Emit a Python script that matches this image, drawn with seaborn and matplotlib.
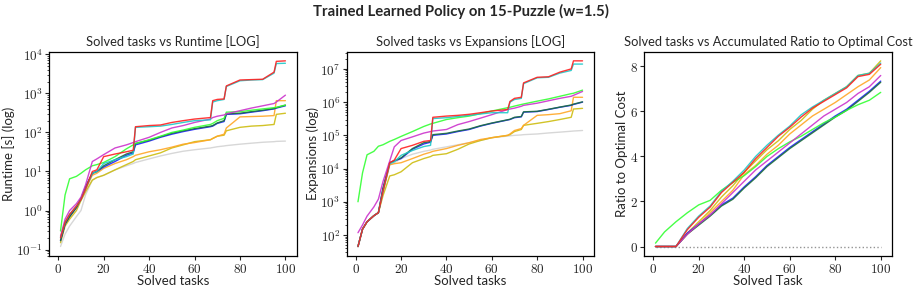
import numpy as np
import pandas as pd
import seaborn as sns
import matplotlib
matplotlib.use('Agg')
import matplotlib.pyplot as plt
from matplotlib.ticker import FuncFormatter, LogLocator, NullFormatter

TASKS = [1, 3, 5, 8, 10, 12, 15, 17, 20, 25, 30, 33, 34, 40, 45, 50, 55, 60,
         67, 68, 70, 73, 74, 80, 85, 90, 95, 96, 100]

# accumulated runtime [s]
rt_red = [0.2, 0.5, 0.8, 1.3, 1.9, 3.5, 10, 11, 24, 28, 32, 35, 140, 150, 155, 180, 200, 220,
          240, 650, 700, 720, 1550, 2200, 2250, 2300, 3500, 6600, 6800]
rt_cyan = [0.2, 0.5, 0.8, 1.3, 1.9, 3.5, 9, 10, 16, 20, 24, 28, 135, 140, 145, 160, 180, 200,
           210, 600, 650, 700, 1500, 2100, 2200, 2250, 3300, 5800, 5900]
rt_magenta = [0.22, 0.6, 1.0, 1.5, 2.2, 4.5, 18, 21, 27, 40, 48, 55, 58, 75, 100, 130, 150, 180,
              220, 240, 260, 280, 300, 360, 420, 480, 550, 600, 900]
rt_lime = [0.3, 2.5, 6.5, 7.5, 9, 11, 14, 15, 17, 24, 38, 48, 52, 65, 80, 100, 115, 135,
           160, 170, 200, 230, 330, 340, 370, 400, 430, 440, 500]
rt_blue = [0.17, 0.45, 0.7, 1.2, 2, 4, 9, 10, 13, 18, 26, 30, 48, 60, 75, 90, 105, 120,
           140, 145, 170, 190, 290, 300, 330, 360, 400, 420, 480]
rt_dkgreen = [0.17, 0.45, 0.7, 1.2, 2, 4, 9, 10, 14, 20, 28, 32, 52, 63, 78, 95, 110, 125,
              145, 150, 175, 200, 300, 310, 340, 370, 410, 430, 500]
rt_orange = [0.18, 0.45, 0.7, 1.2, 2, 3.5, 8, 9, 12, 16, 20, 24, 26, 32, 36, 42, 50, 55,
             65, 70, 80, 90, 130, 250, 255, 260, 270, 650, 650]
rt_yellow = [0.15, 0.4, 0.6, 1.0, 1.8, 3, 6, 7, 8, 11, 15, 18, 20, 25, 30, 40, 48, 58,
             65, 70, 80, 85, 110, 135, 145, 150, 160, 290, 310]
rt_gray = [0.12, 0.25, 0.4, 0.7, 1.0, 2.5, 6, 7, 8, 11, 14, 16, 17, 21, 25, 29, 33, 36,
           40, 41, 43, 45, 46, 50, 53, 56, 58, 59, 60]

# accumulated expansions
ex_red = [45, 150, 250, 380, 470, 2000, 15000, 18000, 40000, 50000, 66000, 70000, 350000, 380000,
          400000, 430000, 480000, 540000, 600000, 1.05e6, 1.3e6, 1.4e6, 3.8e6, 5.6e6, 5.8e6,
          8e6, 1e7, 1.75e7, 1.75e7]
ex_cyan = [45, 150, 250, 380, 470, 2000, 14000, 16000, 25000, 35000, 46000, 50000, 320000, 340000,
           370000, 400000, 440000, 480000, 480000, 1e6, 1.2e6, 1.3e6, 3.6e6, 5.4e6, 5.6e6,
           7.5e6, 9e6, 1.4e7, 1.4e7]
ex_magenta = [117, 200, 370, 700, 1200, 4000, 17000, 45000, 70000, 90000, 117000, 130000, 135000,
              150000, 210000, 260000, 330000, 420000, 600000, 620000, 660000, 750000, 800000,
              930000, 1.1e6, 1.3e6, 1.5e6, 1.6e6, 2.1e6]
ex_lime = [1000, 7400, 26000, 33000, 47000, 52000, 66000, 75000, 93000, 130000, 185000, 220000,
           230000, 300000, 340000, 380000, 450000, 540000, 680000, 700000, 760000, 850000, 880000,
           1.07e6, 1.25e6, 1.5e6, 1.8e6, 1.85e6, 2.3e6]
ex_blue = [45, 150, 250, 380, 470, 2500, 15000, 17000, 20000, 38000, 55000, 62000, 100000, 110000,
           130000, 150000, 190000, 230000, 290000, 300000, 340000, 360000, 500000, 520000,
           600000, 700000, 800000, 850000, 1e6]
ex_dkgreen = [45, 150, 250, 380, 470, 2500, 15000, 17000, 21000, 40000, 60000, 65000, 105000,
              115000, 135000, 155000, 195000, 235000, 295000, 305000, 350000, 370000, 510000,
              530000, 610000, 710000, 820000, 870000, 1.02e6]
ex_orange = [45, 150, 250, 380, 470, 2000, 13000, 14000, 15000, 20000, 27000, 31000, 33000, 40000,
             50000, 60000, 75000, 85000, 100000, 110000, 140000, 160000, 200000, 400000, 420000,
             450000, 550000, 1.4e6, 1.4e6]
ex_yellow = [45, 150, 250, 380, 470, 1500, 6000, 6500, 8000, 15000, 20000, 23000, 25000, 28000,
             38000, 55000, 70000, 85000, 100000, 105000, 130000, 150000, 200000, 230000, 260000,
             300000, 350000, 620000, 650000]
ex_gray = [45, 150, 250, 380, 470, 2000, 13000, 15000, 20000, 27000, 33000, 36000, 38000, 45000,
           52000, 60000, 70000, 85000, 95000, 97000, 100000, 103000, 105000, 110000, 118000,
           125000, 133000, 135000, 140000]

# accumulated ratio to optimal cost
RATIO_TASKS = [1, 5, 10, 15, 20, 25, 30, 35, 40, 45, 50, 55, 60, 65, 70, 75, 80, 85, 90, 95, 100]
rc_red = [0, 0, 0, 0.75, 1.3, 1.75, 2.4, 2.85, 3.3, 3.9, 4.4, 4.9, 5.3, 5.75, 6.15, 6.45, 6.75,
          7.05, 7.55, 7.65, 8.1]
rc_cyan = [0, 0, 0, 0.8, 1.35, 1.8, 2.45, 2.9, 3.4, 4.0, 4.5, 4.95, 5.35, 5.85, 6.2, 6.5, 6.8,
           7.1, 7.6, 7.7, 8.15]
rc_magenta = [0, 0, 0, 0.55, 1.0, 1.4, 1.9, 2.4, 2.9, 3.4, 3.8, 4.2, 4.6, 5.0, 5.4, 5.8, 6.1,
              6.4, 6.8, 7.1, 7.6]
rc_lime = [0.15, 0.65, 1.1, 1.5, 1.85, 2.05, 2.5, 2.85, 3.15, 3.55, 4.0, 4.35, 4.65, 4.9, 5.2,
           5.5, 5.75, 6.05, 6.3, 6.5, 6.85]
rc_blue = [0, 0, 0, 0.6, 1.0, 1.4, 1.85, 2.15, 2.65, 3.1, 3.6, 4.0, 4.4, 4.75, 5.1, 5.45, 5.8,
           6.1, 6.5, 6.9, 7.35]
rc_dkgreen = [0, 0, 0, 0.55, 0.95, 1.35, 1.8, 2.1, 2.6, 3.05, 3.55, 3.95, 4.35, 4.7, 5.05, 5.4,
              5.75, 6.05, 6.45, 6.85, 7.3]
rc_orange = [0, 0, 0, 0.55, 1.0, 1.5, 2.0, 2.5, 3.2, 3.6, 4.1, 4.5, 5.0, 5.4, 5.8, 6.1, 6.4,
             6.75, 7.1, 7.4, 7.95]
rc_yellow = [0, 0, 0, 0.6, 1.1, 1.6, 2.2, 2.7, 3.3, 3.8, 4.3, 4.7, 5.2, 5.6, 6.1, 6.5, 6.8,
             7.1, 7.6, 7.7, 8.25]
rc_gray = [0] * len(RATIO_TASKS)

names = ['gray', 'yellow', 'orange', 'blue', 'dkgreen', 'lime', 'magenta', 'cyan', 'red']
palette = {'gray': '#d3d3d3', 'yellow': '#cdbd10', 'orange': '#ffa726', 'blue': '#1f1fff',
           'dkgreen': '#1a6e3c', 'lime': '#33ff33', 'magenta': '#cc33cc', 'cyan': '#1fc8c8',
           'red': '#ff2020'}

runtime = dict(zip(names, [rt_gray, rt_yellow, rt_orange, rt_blue, rt_dkgreen, rt_lime,
                           rt_magenta, rt_cyan, rt_red]))
expansions = dict(zip(names, [ex_gray, ex_yellow, ex_orange, ex_blue, ex_dkgreen, ex_lime,
                              ex_magenta, ex_cyan, ex_red]))
ratio = dict(zip(names, [rc_gray, rc_yellow, rc_orange, rc_blue, rc_dkgreen, rc_lime,
                         rc_magenta, rc_cyan, rc_red]))


def to_long(x, series):
    frames = [pd.DataFrame({'task': x, 'value': v, 'run': k}) for k, v in series.items()]
    return pd.concat(frames, ignore_index=True)


sns.set_theme(style='ticks')
plt.rcParams['font.family'] = ['Lato', 'DejaVu Sans']
plt.rcParams['mathtext.fontset'] = 'cm'

fig = plt.figure(figsize=(9.21, 2.93), dpi=100)
axes = [fig.add_axes([0.0535, 0.127, 0.2686, 0.697]),
        fig.add_axes([0.3765, 0.127, 0.2682, 0.697]),
        fig.add_axes([0.6995, 0.127, 0.269, 0.697])]

panels = [
    (TASKS, runtime, 'Solved tasks vs Runtime [LOG]', 'Solved tasks', 'Runtime [s] (log)', True),
    (TASKS, expansions, 'Solved tasks vs Expansions [LOG]', 'Solved tasks', 'Expansions (log)', True),
    (RATIO_TASKS, ratio, 'Solved tasks vs Accumulated Ratio to Optimal Cost', 'Solved Task',
     'Ratio to Optimal Cost', False),
]

math_fmt = FuncFormatter(lambda v, p: f'${v:g}$')
pow_fmt = FuncFormatter(lambda v, p: f'$10^{{{int(round(np.log10(v)))}}}$')

for ax, (x, data, title, xlab, ylab, logy) in zip(axes, panels):
    df = to_long(x, data)
    sns.lineplot(data=df, x='task', y='value', hue='run', palette=palette, hue_order=names,
                 lw=1.0, alpha=0.9, legend=False, ax=ax)
    if not logy:
        # optimal baseline is drawn dotted
        ax.lines[0].set_linestyle(':')
        ax.lines[0].set_color('#888888')
    ax.set_title(title, fontsize=9.3, pad=4)
    ax.set_xlabel(xlab, fontsize=9.5, labelpad=0)
    ax.set_ylabel(ylab, fontsize=9.5, labelpad=1)
    ax.set_xticks([0, 20, 40, 60, 80, 100])
    ax.xaxis.set_major_formatter(math_fmt)
    if logy:
        ax.set_yscale('log')
        ax.yaxis.set_major_locator(LogLocator(base=10))
        ax.yaxis.set_major_formatter(pow_fmt)
        ax.yaxis.set_minor_formatter(NullFormatter())
    else:
        ax.set_yticks([0, 2, 4, 6, 8])
        ax.yaxis.set_major_formatter(math_fmt)
    ax.tick_params(labelsize=9.5, length=3, width=0.8, pad=1.5)
    ax.tick_params(which='minor', length=1.5, width=0.6)
    for s in ax.spines.values():
        s.set_linewidth(0.9)
        s.set_color('black')

fig.suptitle('Trained Learned Policy on 15-Puzzle (w=1.5)', fontsize=10.7, fontweight='bold', y=0.985)
fig.savefig('out.png', dpi=100)
